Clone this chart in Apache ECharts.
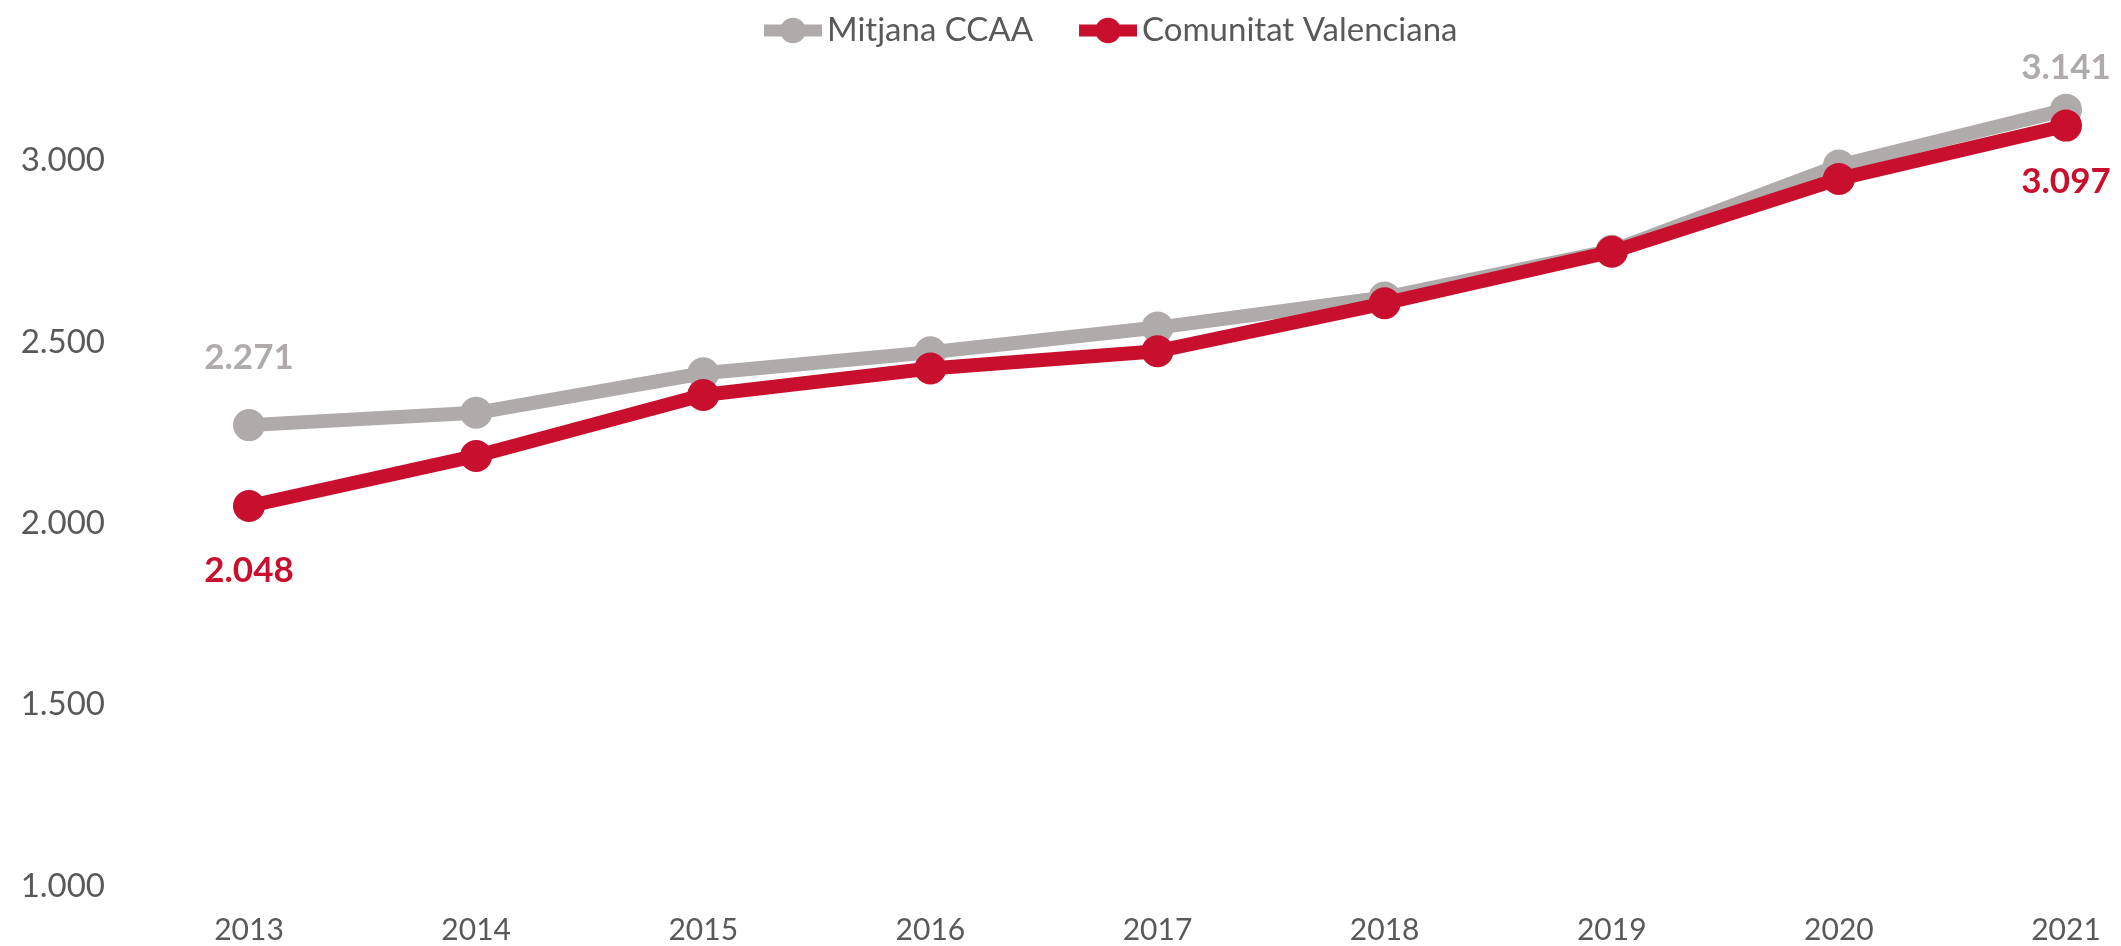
<!DOCTYPE html>
<html>
<head>
<meta charset="utf-8">
<script src="https://cdn.jsdelivr.net/npm/echarts@6/dist/echarts.min.js"></script>
<style>
    html, body { margin: 0; padding: 0; background: #fff; }
    #container { width: 2121px; height: 946px; }
</style>
</head>
<body>
<div id="container"></div>
<script type="text/javascript">
    // dades
    var years = ['2013', '2014', '2015', '2016', '2017', '2018', '2019', '2020', '2021'];
    var mitjanaCCAA = [2271, 2305, 2414, 2472, 2540, 2623, 2752, 2987, 3141];
    var comunitatValenciana = [2048, 2186, 2354, 2427, 2475, 2607, 2749, 2950, 3097];

    var grey = '#afabaa';
    var red = '#c8102e';
    var txt = '#595959';

    function fmt(v) {
        return String(v).replace(/\B(?=(\d{3})+(?!\d))/g, '.');
    }

    // etiqueta només al primer i a l'últim punt
    function withLabels(arr, color, firstPos, firstDist, lastPos, lastDist) {
        var out = [];
        for (var i = 0; i < arr.length; i++) {
            var item = { value: arr[i] };
            if (i === 0 || i === arr.length - 1) {
                item.label = {
                    show: true,
                    position: i === 0 ? firstPos : lastPos,
                    distance: i === 0 ? firstDist : lastDist,
                    color: color,
                    fontFamily: 'Lato',
                    fontWeight: 'bold',
                    fontSize: 35,
                    formatter: function (p) { return fmt(p.value); }
                };
            }
            out.push(item);
        }
        return out;
    }

    var dom = document.getElementById("container");
    var myChart = echarts.init(dom);
    var option = {
        animation: false,
        textStyle: { fontFamily: 'Lato' },
        legend: {
            top: 9,
            left: 753,
            itemWidth: 58,
            itemHeight: 32,
            itemGap: 40,
            lineStyle: { width: 12 },
            textStyle: { color: txt, fontSize: 33, fontFamily: 'Lato' },
            data: ['Mitjana CCAA', 'Comunitat Valenciana']
        },
        grid: {
            left: 249,
            right: 55,
            top: 52,
            bottom: 60,
            containLabel: false
        },
        xAxis: {
            type: 'category',
            boundaryGap: false,
            data: years,
            axisLine: { show: false },
            axisTick: { show: false },
            axisLabel: { color: txt, fontSize: 30, margin: 29 }
        },
        yAxis: {
            type: 'value',
            min: 1000,
            max: 3300,
            interval: 500,
            splitLine: { show: false },
            axisLine: { show: false },
            axisTick: { show: false },
            axisLabel: {
                color: txt,
                fontSize: 33,
                margin: 144,
                showMaxLabel: false,
                formatter: function (v) { return v % 500 === 0 ? fmt(v) : ''; }
            }
        },
        series: [
            {
                name: 'Mitjana CCAA',
                type: 'line',
                symbol: 'circle',
                symbolSize: 32,
                lineStyle: { width: 14, color: grey },
                itemStyle: { color: grey },
                z: 2,
                data: withLabels(mitjanaCCAA, grey, 'top', 34, 'top', 8)
            },
            {
                name: 'Comunitat Valenciana',
                type: 'line',
                symbol: 'circle',
                symbolSize: 32,
                lineStyle: { width: 14, color: red },
                itemStyle: { color: red },
                z: 3,
                data: withLabels(comunitatValenciana, red, 'bottom', 31, 'bottom', 23)
            }
        ]
    };
    myChart.setOption(option);
</script>
</body>
</html>
